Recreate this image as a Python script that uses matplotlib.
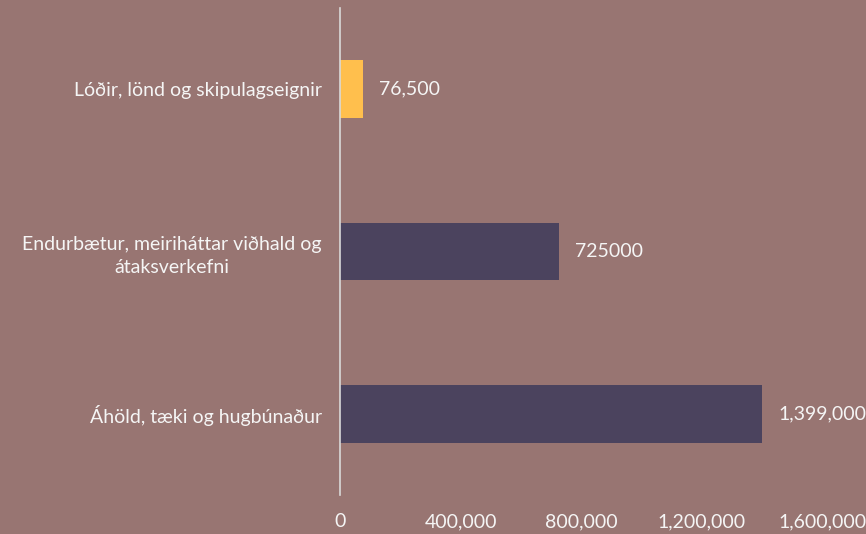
import matplotlib.pyplot as plt
from matplotlib.ticker import FuncFormatter

categories = ["Lóðir, lönd og skipulagseignir",
              "Endurbætur, meiriháttar viðhald og\nátaksverkefni",
              "Áhöld, tæki og hugbúnaður"]
values = [76500, 725000, 1399000]
value_labels = ["76,500", "725000", "1,399,000"]
bar_colors = ["#FFBF4D", "#4B435E", "#4B435E"]
x_ticks = [0, 400000, 800000, 1200000, 1600000]

bg = "#987572"
txt = "#F5F5F5"
fs = 14
plt.rcParams['font.family'] = ['Lato', 'DejaVu Sans']

fig = plt.figure(figsize=(8.66, 5.34), dpi=100)
fig.patch.set_facecolor(bg)
ax = fig.add_axes([0.3926, 0.073, 0.5573, 0.912])
ax.set_facecolor(bg)

y_pos = list(range(len(categories)))
ax.barh(y_pos, values, height=0.357, color=bar_colors)
for y, v, lab in zip(y_pos, values, value_labels):
    ax.text(v + 53000, y, lab, va='center', ha='left', fontsize=fs, color=txt)

ax.set_ylim(2.5, -0.5)
ax.set_xlim(0, 1600000)
ax.set_yticks(y_pos)
ax.set_yticklabels(categories, fontsize=fs, color=txt)
for lab in ax.get_yticklabels():
    lab.set_multialignment('center')
    lab.set_linespacing(1.45)
ax.set_xticks(x_ticks)
ax.xaxis.set_major_formatter(FuncFormatter(lambda v, p: f"{int(v):,}"))
ax.tick_params(axis='x', colors=txt, labelsize=fs, length=0, pad=13)
ax.tick_params(axis='y', length=0, pad=13)

for s in ['top', 'right', 'bottom']:
    ax.spines[s].set_visible(False)
ax.spines['left'].set_color("#D9D9D9")
ax.spines['left'].set_linewidth(1.2)

fig.savefig("out.png", dpi=100, facecolor=bg)
